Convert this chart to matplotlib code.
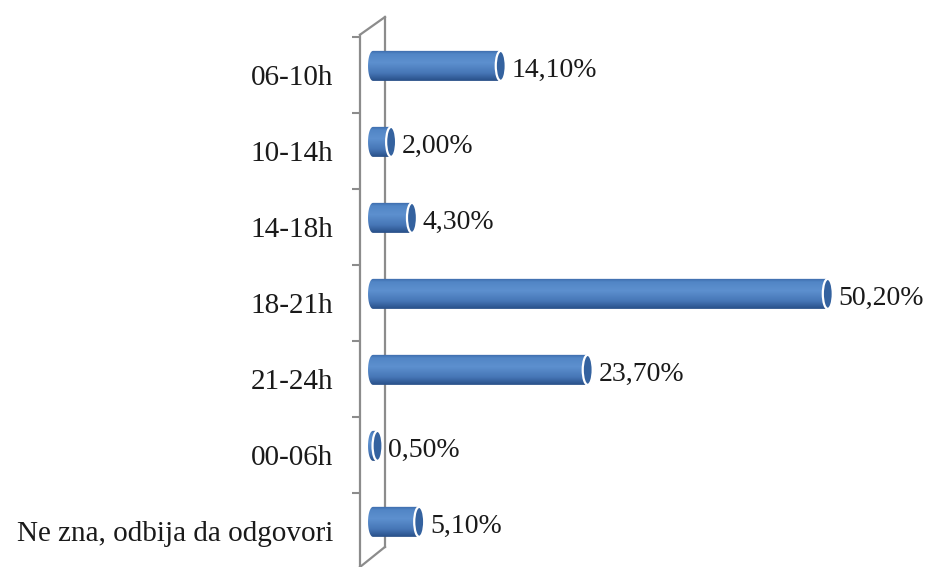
import numpy as np
import matplotlib.pyplot as plt
from matplotlib.patches import Ellipse, PathPatch
from matplotlib.path import Path
from matplotlib.colors import LinearSegmentedColormap

categories = ['06-10h', '10-14h', '14-18h', '18-21h', '21-24h', '00-06h',
              'Ne zna, odbija da odgovori']
values = [14.1, 2.0, 4.3, 50.2, 23.7, 0.5, 5.1]
value_labels = ['14,10%', '2,00%', '4,30%', '50,20%', '23,70%', '0,50%', '5,10%']

plt.rcParams['font.family'] = ['Liberation Serif', 'DejaVu Serif']

fig = plt.figure(figsize=(9.25, 5.67), dpi=100)
ax = fig.add_axes([360 / 925, 0, 565 / 925, 1])
ax.set_xlim(-1.435, 60.93)
ax.set_ylim(6.474, -0.987)

frame_col = '#8c8c8c'
bar_h = 0.395
shift = -0.12
cap_w = 1.1

# vertical shading of the cylinder body, top to bottom
shade = LinearSegmentedColormap.from_list(
    'cyl', [(0.0, '#3a68a8'), (0.12, '#5286c6'), (0.4, '#5d90cf'),
            (0.75, '#4676b6'), (1.0, '#284f88')])
grad = shade(np.linspace(0, 1, 64))[:, None, :3]

for i, v in enumerate(values):
    yc = i + shift
    top, bot = yc - bar_h / 2, yc + bar_h / 2
    # body outline: rounded left end + straight section
    t = np.linspace(np.pi / 2, 3 * np.pi / 2, 30)
    left = np.column_stack([cap_w / 2 * np.cos(t), yc - bar_h / 2 * np.sin(t)])
    verts = np.vstack([[[v, top]], left, [[v, bot]], [[v, top]]])
    codes = [Path.MOVETO] + [Path.LINETO] * (len(verts) - 2) + [Path.CLOSEPOLY]
    body = PathPatch(Path(verts, codes), facecolor='none', edgecolor='none')
    ax.add_patch(body)
    img = ax.imshow(grad, extent=(-cap_w / 2, v, bot, top), aspect='auto',
                    interpolation='bilinear', zorder=2)
    img.set_clip_path(body)
    cap = Ellipse((v, yc), cap_w, bar_h, facecolor='#34629f',
                  edgecolor='white', linewidth=1.6, zorder=3)
    ax.add_patch(cap)
    ax.text(v + 1.2, i - 0.06, value_labels[i], fontsize=20, color='#1a1a1a',
            va='center', ha='left', zorder=4)

ax.set_xlim(-1.435, 60.93)
ax.set_ylim(6.474, -0.987)

for s in ['top', 'right', 'bottom']:
    ax.spines[s].set_visible(False)
ax.spines['left'].set_color(frame_col)
ax.spines['left'].set_linewidth(1.6)
ax.spines['left'].set_bounds(-0.53, 6.474)

ax.set_xticks([])
ax.set_yticks(range(len(categories)))
ax.set_yticklabels(categories, fontsize=21, color='#1a1a1a')
ax.set_yticks(np.arange(-0.5, 6, 1), minor=True)
ax.tick_params(axis='y', which='major', length=0, pad=19.5)
ax.tick_params(axis='y', which='minor', length=6, width=1.5, color=frame_col,
               direction='out')

# back wall edge and the perspective connectors
x_back = 1.32
ax.plot([-1.435, x_back], [-0.53, -0.763], color=frame_col, lw=1.6,
        clip_on=False, zorder=1)
ax.plot([x_back, x_back], [-0.763, 6.21], color=frame_col, lw=1.6,
        clip_on=False, zorder=1)
ax.plot([-1.435, x_back], [6.474, 6.21], color=frame_col, lw=1.6,
        clip_on=False, zorder=1)

fig.savefig('out.png', dpi=100)
